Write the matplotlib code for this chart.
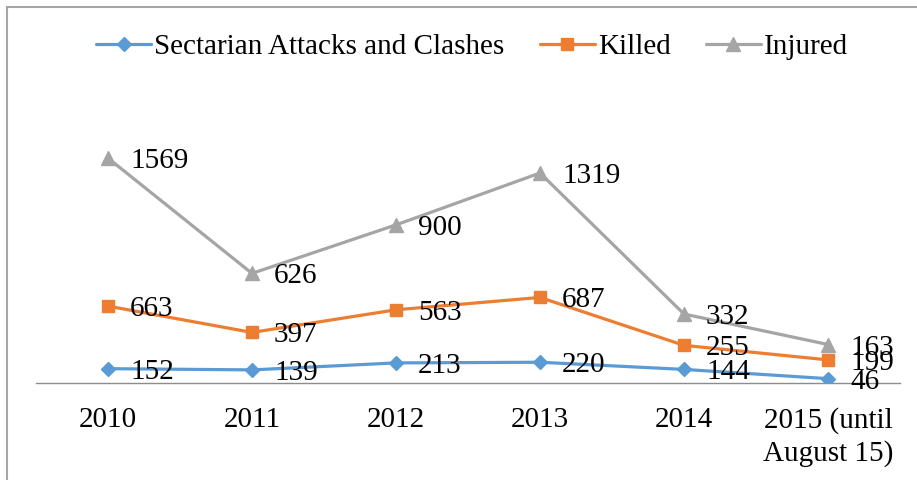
import numpy as np
import matplotlib.pyplot as plt
from matplotlib.patches import Rectangle

# chart data (Excel stacked line chart: each series sits on top of the one below)
years = ["2010", "2011", "2012", "2013", "2014", "2015 (until\nAugust 15)"]
attacks = [152, 139, 213, 220, 144, 46]
killed = [663, 397, 563, 687, 255, 199]
injured = [1569, 626, 900, 1319, 332, 163]

names = ["Sectarian Attacks and Clashes", "Killed", "Injured"]
colors = ["#5B9BD5", "#ED7D31", "#A5A5A5"]
markers = ["D", "s", "^"]
msizes = [7, 9, 10]

plt.rcParams["font.family"] = ["Liberation Serif", "DejaVu Serif"]
FS = 21

W, H = 917, 480
fig = plt.figure(figsize=(W / 100, H / 100), dpi=100)
ax = fig.add_axes([36 / W, (H - 383) / H, 864 / W, 283 / H])

x = np.arange(len(years))
series = [attacks, killed, injured]
stacked = np.cumsum(np.array(series, dtype=float), axis=0)

for vals, top, name, c, m, ms in zip(series, stacked, names, colors, markers, msizes):
    ax.plot(x, top, color=c, lw=2.3, marker=m, ms=ms, label=name,
            solid_capstyle="round", zorder=3)
    for xi, yi, v in zip(x, top, vals):
        ax.annotate(str(v), (xi, yi), xytext=(22, -3), textcoords="offset pixels",
                    ha="left", va="center", fontsize=FS, zorder=4)

ax.set_xlim(-0.5, len(years) - 0.5)
ax.set_ylim(0, 3000)
ax.set_xticks(x)
ax.set_xticklabels(years, fontsize=FS, linespacing=1.3)
ax.tick_params(axis="x", length=0, pad=17)
ax.set_yticks([])
for s in ["top", "right", "left"]:
    ax.spines[s].set_visible(False)
ax.spines["bottom"].set_color("#8C8C8C")
ax.spines["bottom"].set_linewidth(1.0)

fig.legend(loc="center", bbox_to_anchor=(472 / W, 1 - 47 / H), ncol=3,
           frameon=False, fontsize=FS, handlelength=1.9, handletextpad=0.1,
           columnspacing=1.2)

# outer chart border (only left and top edges fall inside the picture)
fig.patches.append(Rectangle((7 / W, -0.1), 1.0, 1 - 7 / H + 0.1,
                             transform=fig.transFigure, fill=False,
                             edgecolor="#A6A6A6", lw=1.5))

fig.savefig("out.png", dpi=100)
